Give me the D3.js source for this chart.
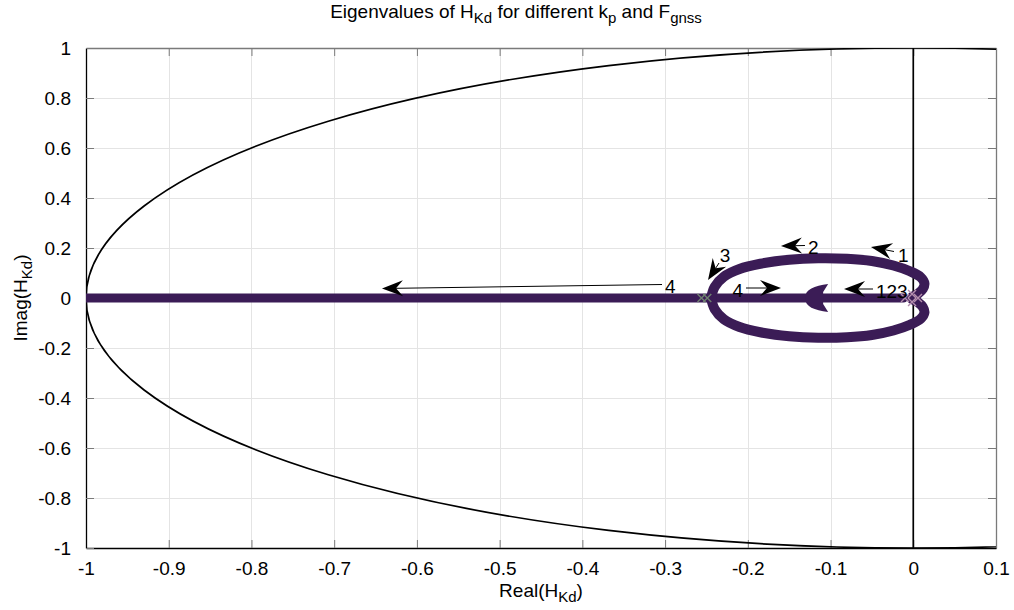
<!DOCTYPE html>
<html>
<head>
<meta charset="utf-8">
<script src="https://cdn.jsdelivr.net/npm/d3@7"></script>
<style>
  body { margin: 0; background: #fff; }
  text { font-family: "Liberation Sans", Arial, Helvetica, sans-serif; fill: #000; }
</style>
</head>
<body>
<svg id="chart" width="1014" height="610"></svg>
<script>
// ---- axis ticks ----
const xTicks = [-1, -0.9, -0.8, -0.7, -0.6, -0.5, -0.4, -0.3, -0.2, -0.1, 0, 0.1];
const xTickLabels = ["-1", "-0.9", "-0.8", "-0.7", "-0.6", "-0.5", "-0.4", "-0.3", "-0.2", "-0.1", "0", "0.1"];
const yTicks = [-1, -0.8, -0.6, -0.4, -0.2, 0, 0.2, 0.4, 0.6, 0.8, 1];
const yTickLabels = ["-1", "-0.8", "-0.6", "-0.4", "-0.2", "0", "0.2", "0.4", "0.6", "0.8", "1"];

// ---- eigenvalue loci ----
// branch that stays on the real axis
const realBranchRe = [-1, -0.75, -0.5, -0.25, -0.012];
const realBranchIm = [0, 0, 0, 0, 0];
// complex branch, upper half-plane (the lower branch is its conjugate)
const loopRe = [-0.0015, 0.006, 0.0115, 0.0135, 0.009, -0.004, -0.024, -0.05, -0.08, -0.115, -0.15, -0.185, -0.21, -0.229, -0.24, -0.2445];
const loopIm = [0.004, 0.018, 0.036, 0.058, 0.083, 0.107, 0.13, 0.148, 0.157, 0.159, 0.153, 0.137, 0.116, 0.085, 0.045, 0.0];
// cluster of direction heads on the real branch
const headClusterRe = [-0.115];
const headClusterIm = [0];
// starting eigenvalues
const startRe = [-0.256, -0.249, -0.01, -0.0015, -0.0015, 0.0057];
const startIm = [0, 0, 0, 0.016, -0.016, 0];
const startGroup = ["a", "a", "b", "b", "b", "b"];

// ---- annotation arrows ----
const arrowLabels = ["1", "2", "3", "4", "4", "123"];
const arrowTailRe = [-0.0233, -0.1309, -0.2348, -0.3037, -0.2022, -0.0487];
const arrowTailIm = [0.186, 0.21, 0.14, 0.054, 0.04, 0.036];
const arrowHeadRe = [-0.0511, -0.1599, -0.2481, -0.6422, -0.1599, -0.0837];
const arrowHeadIm = [0.204, 0.208, 0.072, 0.038, 0.04, 0.036];

// ---- layout ----
const W = 1014, H = 610;
const margin = { left: 86, right: 18, top: 48, bottom: 62 };
const plotW = W - margin.left - margin.right;
const plotH = H - margin.top - margin.bottom;
const purple = "#3b1c56";
const fontSize = 19;

const svg = d3.select("#chart");
const x = d3.scaleLinear().domain([-1, 0.1]).range([margin.left, margin.left + plotW]);
const y = d3.scaleLinear().domain([-1, 1]).range([margin.top + plotH, margin.top]);

svg.append("defs").append("clipPath").attr("id", "plotClip")
  .append("rect").attr("x", margin.left).attr("y", margin.top)
  .attr("width", plotW).attr("height", plotH);

// grid
const grid = svg.append("g").attr("stroke", "#e4e4e4").attr("stroke-width", 1);
grid.selectAll("line.gx").data(xTicks.slice(1, -1)).join("line")
  .attr("x1", d => Math.round(x(d)) + 0.5).attr("x2", d => Math.round(x(d)) + 0.5)
  .attr("y1", margin.top).attr("y2", margin.top + plotH);
grid.selectAll("line.gy").data(yTicks.slice(1, -1)).join("line")
  .attr("y1", d => Math.round(y(d)) + 0.5).attr("y2", d => Math.round(y(d)) + 0.5)
  .attr("x1", margin.left).attr("x2", margin.left + plotW);

// axes
const xAxis = d3.axisBottom(x).tickValues(xTicks).tickFormat((d, i) => xTickLabels[i])
  .tickSizeInner(-8).tickSizeOuter(0).tickPadding(14);
const yAxis = d3.axisLeft(y).tickValues(yTicks).tickFormat((d, i) => yTickLabels[i])
  .tickSizeInner(-8).tickSizeOuter(0).tickPadding(15);
const xTop = d3.axisTop(x).tickValues(xTicks).tickFormat("").tickSizeInner(-8).tickSizeOuter(0);
const yRight = d3.axisRight(y).tickValues(yTicks).tickFormat("").tickSizeInner(-8).tickSizeOuter(0);

function styleAxis(g, lineColor) {
  g.select(".domain").attr("stroke", lineColor).attr("stroke-width", 1.3);
  g.selectAll(".tick line").attr("stroke", "#7a7a7a").attr("stroke-width", 1);
  g.selectAll(".tick text").style("font-size", fontSize + "px")
    .style("font-family", '"Liberation Sans", Arial, sans-serif').attr("fill", "#000");
}
svg.append("g").attr("transform", `translate(0,${margin.top})`).call(xTop).call(g => styleAxis(g, "#7a7a7a"));
svg.append("g").attr("transform", `translate(${margin.left + plotW},0)`).call(yRight).call(g => styleAxis(g, "#7a7a7a"));
svg.append("g").attr("transform", `translate(0,${margin.top + plotH})`).call(xAxis).call(g => styleAxis(g, "#000"));
svg.append("g").attr("transform", `translate(${margin.left},0)`).call(yAxis).call(g => styleAxis(g, "#000"));

const plot = svg.append("g").attr("clip-path", "url(#plotClip)");

// unit circle and imaginary axis
plot.append("ellipse")
  .attr("cx", x(0)).attr("cy", y(0))
  .attr("rx", x(1) - x(0)).attr("ry", y(0) - y(1))
  .attr("fill", "none").attr("stroke", "#000").attr("stroke-width", 1.7);
plot.append("line")
  .attr("x1", x(0)).attr("x2", x(0)).attr("y1", y(-1)).attr("y2", y(1))
  .attr("stroke", "#000").attr("stroke-width", 1.7);

// eigenvalue loci
const line = d3.line().x(d => x(d[0])).y(d => y(d[1]));
const smooth = d3.line().x(d => x(d[0])).y(d => y(d[1])).curve(d3.curveCatmullRom.alpha(0.5));
const realBranch = realBranchRe.map((r, i) => [r, realBranchIm[i]]);
const upper = loopRe.map((r, i) => [r, loopIm[i]]);
const lower = upper.map(p => [p[0], -p[1]]);

plot.append("path").attr("d", line(realBranch))
  .attr("fill", "none").attr("stroke", purple).attr("stroke-width", 9).attr("stroke-linecap", "round");
[upper, lower].forEach(branch => {
  plot.append("path").attr("d", smooth(branch))
    .attr("fill", "none").attr("stroke", purple).attr("stroke-width", 10)
    .attr("stroke-linecap", "round").attr("stroke-linejoin", "round");
});

// overlapping direction heads on the real branch
plot.selectAll("path.cluster").data(headClusterRe.map((r, i) => [r, headClusterIm[i]])).join("path")
  .attr("transform", d => `translate(${x(d[0])},${y(d[1])})`)
  .attr("d", "M-13,0 C-13,-9 -4,-12 10,-14 L5,-6 L5,6 L10,14 C-4,12 -13,9 -13,0 Z")
  .attr("fill", purple);

// starting eigenvalues
const startColors = { a: "#6f8070", b: "#b48fae" };
plot.selectAll("path.start").data(startRe.map((r, i) => [r, startIm[i], startGroup[i]])).join("path")
  .attr("transform", d => `translate(${x(d[0])},${y(d[1])})`)
  .attr("d", "M-4,-4 L4,4 M-4,4 L4,-4")
  .attr("stroke", d => startColors[d[2]]).attr("stroke-width", 1.4).attr("fill", "none");

// annotation arrows (text at the tail, filled head at the tip)
const ann = svg.append("g");
arrowLabels.forEach((lab, i) => {
  const tx = x(arrowTailRe[i]), ty = y(arrowTailIm[i]);
  const hx = x(arrowHeadRe[i]), hy = y(arrowHeadIm[i]);
  const dx = hx - tx, dy = hy - ty, len = Math.hypot(dx, dy);
  const ux = dx / len, uy = dy / len;
  const headLen = 21, headHalf = 8, notch = 7;
  const bx = hx - ux * headLen, by = hy - uy * headLen;
  const nx = hx - ux * (headLen - notch), ny = hy - uy * (headLen - notch);
  ann.append("line").attr("x1", tx).attr("y1", ty).attr("x2", nx).attr("y2", ny)
    .attr("stroke", "#000").attr("stroke-width", 1);
  ann.append("path")
    .attr("d", `M${hx},${hy} L${bx - uy * headHalf},${by + ux * headHalf} L${nx},${ny} L${bx + uy * headHalf},${by - ux * headHalf} Z`)
    .attr("fill", "#000");
  const t = ann.append("text").text(lab).style("font-size", fontSize + "px")
    .attr("text-anchor", "middle").attr("dominant-baseline", "central");
  const hw = t.node().getComputedTextLength() / 2;
  const r = 3 + hw * Math.abs(ux) + 6 * Math.abs(uy);
  t.attr("x", tx - ux * r).attr("y", ty - uy * r + 2);
});

// title and axis labels with subscripts
function richText(sel, parts) {
  parts.forEach(p => {
    if (p.sub) {
      sel.append("tspan").text(p.t).style("font-size", "15px").attr("dy", 5);
    } else {
      sel.append("tspan").text(p.t).attr("dy", p.after ? -5 : 0);
    }
  });
}
const title = svg.append("text").attr("x", 516).attr("y", 18)
  .attr("text-anchor", "middle").style("font-size", fontSize + "px");
richText(title, [
  { t: "Eigenvalues of H" }, { t: "Kd", sub: true }, { t: " for different k", after: true },
  { t: "p", sub: true }, { t: " and F", after: true }, { t: "gnss", sub: true }
]);
const xl = svg.append("text").attr("x", margin.left + plotW / 2).attr("y", 597)
  .attr("text-anchor", "middle").style("font-size", fontSize + "px");
richText(xl, [{ t: "Real(H" }, { t: "Kd", sub: true }, { t: ")", after: true }]);
const yl = svg.append("text")
  .attr("transform", `translate(27,${margin.top + plotH / 2}) rotate(-90)`)
  .attr("text-anchor", "middle").style("font-size", fontSize + "px");
richText(yl, [{ t: "Imag(H" }, { t: "Kd", sub: true }, { t: ")", after: true }]);
</script>
</body>
</html>
